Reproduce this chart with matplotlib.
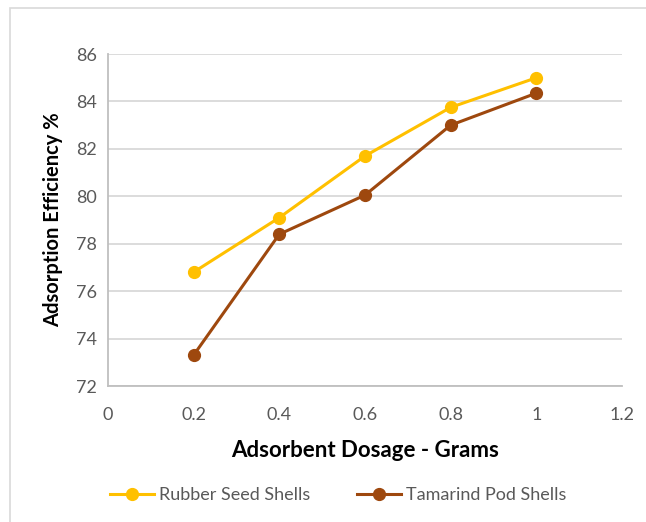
import matplotlib.pyplot as plt
from matplotlib.patches import Rectangle

# Data
dosage = [0.2, 0.4, 0.6, 0.8, 1.0]
rubber_seed = [76.8, 79.1, 81.7, 83.75, 85.0]
tamarind_pod = [73.3, 78.4, 80.05, 83.0, 84.35]

x_ticks = [0, 0.2, 0.4, 0.6, 0.8, 1, 1.2]
x_tick_labels = ['0', '0.2', '0.4', '0.6', '0.8', '1', '1.2']
y_ticks = [72, 74, 76, 78, 80, 82, 84, 86]

plt.rcParams['font.family'] = ['Lato', 'DejaVu Sans']

fig = plt.figure(figsize=(6.46, 5.22), dpi=100)
ax = fig.add_axes([0.167, 0.2605, 0.796, 0.636])

# chart-area border like the Excel frame
fig.patches.append(Rectangle((10 / 646, -0.05), 1.2, 1 - 8 / 522 + 0.05,
                             transform=fig.transFigure, fill=False,
                             edgecolor='#D9D9D9', linewidth=1.2))

ax.plot(dosage, rubber_seed, color='#FFC000', lw=2.2, marker='o', ms=8.5,
        label='Rubber Seed Shells', zorder=3)
ax.plot(dosage, tamarind_pod, color='#9E480E', lw=2.2, marker='o', ms=8.5,
        label='Tamarind Pod Shells', zorder=3)

ax.set_xlim(0, 1.2)
ax.set_ylim(72, 86)
ax.set_xticks(x_ticks)
ax.set_xticklabels(x_tick_labels)
ax.set_yticks(y_ticks)
ax.tick_params(length=0, labelsize=13, colors='#595959', pad=8)
ax.tick_params(axis='x', pad=15)

ax.grid(axis='y', color='#D9D9D9', lw=1.3)
ax.set_axisbelow(True)
for s in ['top', 'right']:
    ax.spines[s].set_visible(False)
for s in ['left', 'bottom']:
    ax.spines[s].set_color('#BFBFBF')
    ax.spines[s].set_linewidth(1.3)

ax.set_xlabel('Adsorbent Dosage - Grams', fontsize=16, fontweight='bold',
              labelpad=12)
ax.set_ylabel('Adsorption Efficiency %', fontsize=14.5, fontweight='bold',
              labelpad=9)

leg = fig.legend(loc='center', bbox_to_anchor=(0.524, 0.052), ncol=2,
                 frameon=False, fontsize=13, handlelength=2.4,
                 columnspacing=2.6, handletextpad=0.3)
for t in leg.get_texts():
    t.set_color('#595959')

fig.savefig('out.png', dpi=100)
